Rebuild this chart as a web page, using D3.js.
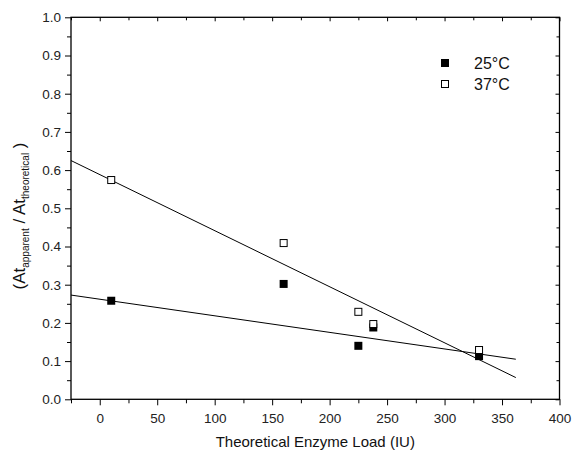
<!DOCTYPE html>
<html><head><meta charset="utf-8">
<script src="https://cdn.jsdelivr.net/npm/d3@7"></script>
<style>body{margin:0;background:#fff}svg{display:block}text{font-family:"Liberation Sans",Arial,sans-serif}</style>
</head><body>
<script>
const loads = [10, 160, 225, 238, 330];
const series25 = [0.258, 0.302, 0.140, 0.188, 0.113];
const series37 = [0.574, 0.409, 0.229, 0.197, 0.129];
const seriesNames = ["25°C", "37°C"];
const fitSlopes = [-0.000434, -0.001468];
const fitIntercepts = [0.2620, 0.5883];
const fitRange = [-25, 362];
const xTicks = [0, 50, 100, 150, 200, 250, 300, 350, 400];
const yTicks = [0.0, 0.1, 0.2, 0.3, 0.4, 0.5, 0.6, 0.7, 0.8, 0.9, 1.0];

const W = 572, H = 457;
const L = 71, R = 559.5, T = 17.3, B = 399.3;
const svg = d3.select("body").append("svg").attr("width", W).attr("height", H);
const x = d3.scaleLinear().domain([-25, 400]).range([L, R]);
const y = d3.scaleLinear().domain([0, 1]).range([B, T]);

const minorX = d3.range(-25, 401, 25).filter(v => v % 50 !== 0);
const minorY = d3.range(0.05, 1, 0.1);

const g = svg.append("g");
function styleAxis(sel){
  sel.selectAll(".domain").remove();
  sel.selectAll("line").attr("stroke","#000").attr("stroke-width",1);
  sel.selectAll("text").attr("font-size","13.5px").attr("fill","#222");
}
g.append("g").attr("transform",`translate(0,${B})`)
  .call(d3.axisBottom(x).tickValues(xTicks).tickSize(6).tickPadding(8).tickFormat(d3.format("d"))).call(styleAxis);
g.append("g").attr("transform",`translate(0,${B})`)
  .call(d3.axisBottom(x).tickValues(minorX).tickSize(4).tickFormat("")).call(styleAxis);
g.append("g").attr("transform",`translate(${L},0)`)
  .call(d3.axisLeft(y).tickValues(yTicks).tickSize(6).tickPadding(4).tickFormat(d3.format(".1f"))).call(styleAxis);
g.append("g").attr("transform",`translate(${L},0)`)
  .call(d3.axisLeft(y).tickValues(minorY).tickSize(4).tickFormat("")).call(styleAxis);
g.append("g").attr("transform",`translate(0,${T})`)
  .call(d3.axisTop(x).tickValues(xTicks).tickSize(-4).tickFormat("")).call(styleAxis);
g.append("g").attr("transform",`translate(0,${T})`)
  .call(d3.axisTop(x).tickValues(minorX).tickSize(-3).tickFormat("")).call(styleAxis);
g.append("g").attr("transform",`translate(${R},0)`)
  .call(d3.axisRight(y).tickValues(yTicks).tickSize(-4).tickFormat("")).call(styleAxis);
g.append("g").attr("transform",`translate(${R},0)`)
  .call(d3.axisRight(y).tickValues(minorY).tickSize(-3).tickFormat("")).call(styleAxis);

svg.append("rect").attr("x",L).attr("y",T).attr("width",R-L).attr("height",B-T)
  .attr("fill","none").attr("stroke","#000").attr("stroke-width",1.3);

const line = d3.line().x(d=>x(d[0])).y(d=>y(d[1]));
fitSlopes.forEach((s,i)=>{
  const pts = fitRange.map(v=>[v, fitIntercepts[i] + s*v]);
  svg.append("path").attr("d", line(pts)).attr("fill","none").attr("stroke","#000").attr("stroke-width",1);
});

const ms = 8;
const data25 = loads.map((l,i)=>[l, series25[i]]);
const data37 = loads.map((l,i)=>[l, series37[i]]);
svg.append("g").selectAll("rect").data(data25).join("rect")
  .attr("x",d=>x(d[0])-ms/2).attr("y",d=>y(d[1])-ms/2).attr("width",ms).attr("height",ms)
  .attr("fill","#000");
svg.append("g").selectAll("rect").data(data37).join("rect")
  .attr("x",d=>x(d[0])-ms/2+0.5).attr("y",d=>y(d[1])-ms/2+0.5).attr("width",ms-1).attr("height",ms-1)
  .attr("fill","#fff").attr("stroke","#000").attr("stroke-width",1);

const lg = svg.append("g");
seriesNames.forEach((n,i)=>{
  const cy = 63 + i*21;
  const r = lg.append("rect").attr("x",441).attr("y",cy-ms/2).attr("width",ms).attr("height",ms);
  if(i===0) r.attr("fill","#000");
  else r.attr("x",441.5).attr("y",cy-ms/2+0.5).attr("width",ms-1).attr("height",ms-1).attr("fill","#fff").attr("stroke","#000");
  lg.append("text").attr("x",474).attr("y",cy+6).attr("font-size","16px").attr("fill","#111").text(n);
});

svg.append("text").attr("x",(L+R)/2).attr("y",447).attr("text-anchor","middle")
  .attr("font-size","15px").attr("fill","#111").text("Theoretical Enzyme Load (IU)");
const yt = svg.append("text").attr("transform",`translate(25,216) rotate(-90)`)
  .attr("text-anchor","middle").attr("font-size","17px").attr("fill","#111");
yt.append("tspan").text("(At");
yt.append("tspan").attr("font-size","10px").attr("dy",4).text("apparent");
yt.append("tspan").attr("dy",-4).text(" / At");
yt.append("tspan").attr("font-size","10px").attr("dy",4).text("theoretical");
yt.append("tspan").attr("dy",-4).text(" )");
</script>
</body></html>
